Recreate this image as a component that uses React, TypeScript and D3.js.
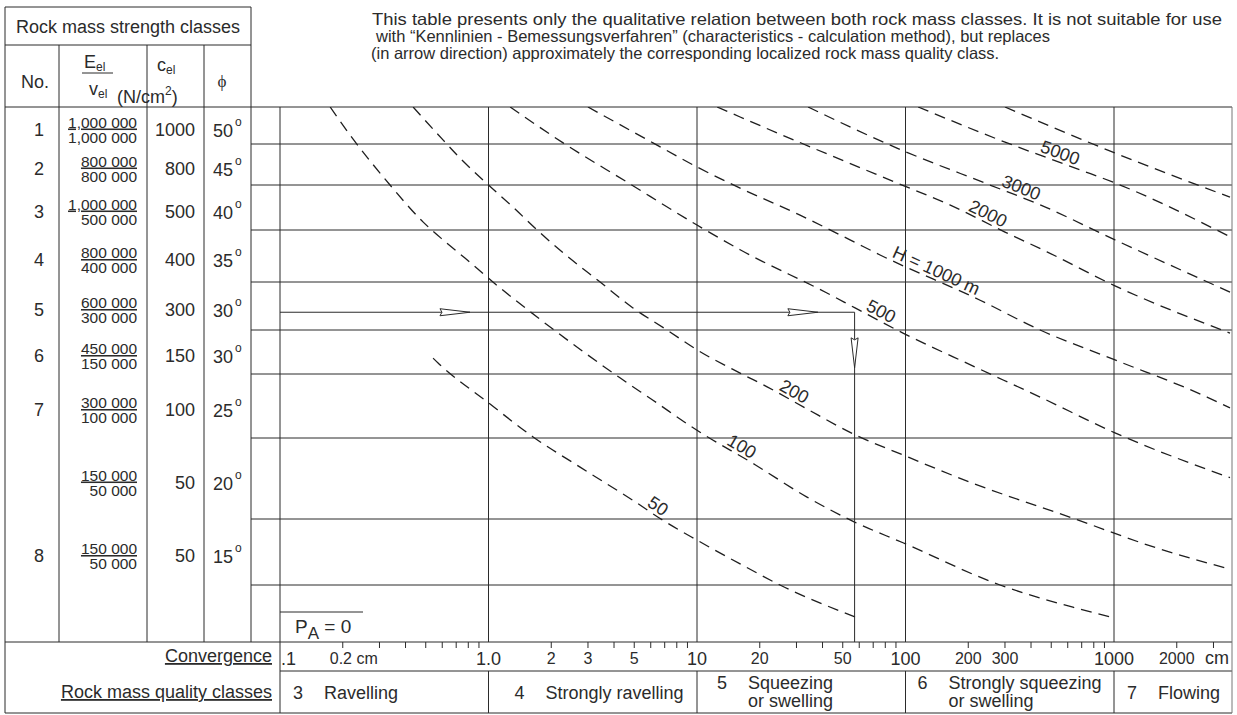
import React from 'react';
import * as d3 from 'd3';

const FONT = '"Liberation Sans", Arial, Helvetica, sans-serif';
const INK = '#2b2b2b';

// rock mass strength classes (table on the left)
const classNo = ['1', '2', '3', '4', '5', '6', '7', '', '8'];
const modulusTop = ['1,000 000', '800 000', '1,000 000', '800 000', '600 000', '450 000', '300 000', '150 000', '150 000'];
const modulusBottom = ['1,000 000', '800 000', '500 000', '400 000', '300 000', '150 000', '100 000', '50 000', '50 000'];
const cohesion = [1000, 800, 500, 400, 300, 150, 100, 50, 50];
const friction = [50, 45, 40, 35, 30, 30, 25, 20, 15];

// convergence axis
const majorValues = [0.1, 1, 10, 100, 1000];
const majorLabels = ['.1', '1.0', '10', '100', '1000'];
const minorValues = [0.2, 2, 3, 5, 20, 50, 200, 300, 2000];
const minorLabels = ['0.2 cm', '2', '3', '5', '20', '50', '200', '300', '2000'];

// rock mass quality classes (bottom row)
const qualityStart = [0.1, 1, 10, 100, 1000];
const qualityNo = ['3', '4', '5', '6', '7'];
const qualityText = [['Ravelling'], ['Strongly ravelling'], ['Squeezing', 'or swelling'], ['Strongly squeezing', 'or swelling'], ['Flowing']];

// overburden curves H: [convergence (cm), position on the strength class rows]
const h50 = [[0.542, 5.64], [0.573, 5.75], [1.0, 6.45], [1.63, 6.98], [2.75, 7.36], [4.93, 7.77], [6.87, 8.02], [10, 8.32], [16.1, 8.68], [25, 9.0], [57.3, 9.56]];
const h100 = [[0.174, 0], [0.217, 0.76], [0.337, 2], [0.485, 2.82], [0.605, 3.19], [0.771, 3.54], [1.05, 4], [1.71, 4.73], [2.9, 5.52], [4.27, 6.06], [6.15, 6.41], [10, 6.88], [19, 7.33], [33.7, 7.73], [57.3, 8.05], [97.3, 8.36], [284, 9], [635, 9.39], [957, 9.56]];
const h200 = [[0.435, 0], [0.605, 0.89], [0.729, 1.34], [1.0, 2], [1.31, 2.49], [1.71, 3], [2.28, 3.44], [3.43, 4], [4.93, 4.54], [7.18, 5], [10, 5.45], [16.1, 5.98], [21.7, 6.2], [33, 6.53], [57.3, 6.95], [97.3, 7.21], [211, 7.56], [635, 7.99], [1607, 8.44], [3600, 8.76]];
const h500 = [[1.27, 0], [2.28, 0.97], [4.62, 1.93], [10, 2.89], [16.1, 3.38], [42, 4.23], [57.3, 4.54], [97.3, 5.07], [211, 5.82], [442, 6.36], [1011, 6.92], [3600, 7.49]];
const h1000 = [[3.0, 0], [6.15, 0.97], [10, 1.56], [16.1, 2.07], [31.2, 2.67], [54.2, 3.19], [75.5, 3.48], [228, 4.38], [442, 5], [1011, 5.68], [2793, 6.36], [3600, 6.53]];
const h2000 = [[12.5, 0], [16.1, 0.27], [91, 1.95], [163, 2.44], [300, 3.04], [477, 3.42], [1011, 4.08], [3600, 5.07]];
const h3000 = [[34.1, 0], [91, 1.1], [254, 2], [442, 2.44], [1011, 3.19], [3600, 4.21]];
const h5000 = [[115, 0], [307, 0.97], [687, 1.63], [1011, 1.95], [3600, 3.13]];
const hTop = [[300, 0], [1011, 1.22], [3600, 2.27]];

const curves = [h50, h100, h200, h500, h1000, h2000, h3000, h5000, hTop];
const curveLabels = ['50', '100', '200', '500', 'H = 1000 m', '2000', '3000', '5000'];
const labelAt = [6.15, 15.6, 27.9, 73, 135, 238, 346, 533];

// worked example arrow
const arrowRow = 4.63;
const arrowEnd = 57;
const arrowHeads = [0.815, 38];
const arrowDownTip = 5.86;

const noteLines = [
  'This table presents only the qualitative relation between both rock mass classes. It is not suitable for use',
  'with \u201cKennlinien - Bemessungsverfahren\u201d (characteristics - calculation method), but replaces',
  '(in arrow direction) approximately the corresponding localized rock mass quality class.',
];

export default function App() {
  const rowEdges = [107, 144, 185, 230, 282, 330, 374, 438, 519, 585, 642];
  const x = d3.scaleLog().domain([0.1, 1000]).range([280, 1114]);
  const y = d3.scaleLinear().domain(d3.range(rowEdges.length)).range(rowEdges);

  const left = 5, tabRight = 251, right = 1232, top = 7, headMid = 45;
  const plotTop = y(0), plotBottom = y(10), convBottom = 671, bottom = 713;
  const x0 = x(0.1);
  const cols = [59, 147, 204];

  const line = d3.line<number[]>()
    .x(d => x(d[0]))
    .y(d => y(d[1]))
    .curve(d3.curveMonotoneX);

  const minorTicks: number[] = [];
  majorValues.forEach(d => {
    for (let m = 2; m <= 9; m++) if (d * m <= 3000) minorTicks.push(d * m);
  });

  // position + slope of a curve at a given convergence
  const place = (data: number[][], cm: number) => {
    const pts = data.map(d => [x(d[0]), y(d[1])]);
    const px = x(cm);
    let i = 0;
    while (i < pts.length - 2 && pts[i + 1][0] < px) i++;
    const [ax, ay] = pts[i];
    const [bx, by] = pts[i + 1];
    const t = (px - ax) / (bx - ax);
    return { px, py: ay + t * (by - ay), angle: Math.atan2(by - ay, bx - ax) * 180 / Math.PI };
  };

  const lineStyle = { stroke: INK, strokeWidth: 1, fill: 'none' };
  const hl = (y1: number, xa: number, xb: number, k: string) => <line key={k} x1={xa} x2={xb} y1={y1} y2={y1} {...lineStyle} />;
  const vl = (x1: number, ya: number, yb: number, k: string) => <line key={k} x1={x1} x2={x1} y1={ya} y2={yb} {...lineStyle} />;

  const ay = y(arrowRow);

  return (
    <svg width={1237} height={715} style={{ position: 'absolute', left: 0, top: 0, background: '#fff' }} fontFamily={FONT} fill={INK}>
      {/* note */}
      <text x={372} y={25} fontSize={16.5} textLength={850} lengthAdjust="spacingAndGlyphs">{noteLines[0]}</text>
      <text x={376} y={42} fontSize={16.5}>{noteLines[1]}</text>
      <text x={371} y={59} fontSize={16.5}>{noteLines[2]}</text>

      {/* table frame */}
      {hl(top, left, tabRight, 't0')}
      {hl(headMid, left, tabRight, 't1')}
      {vl(left, top, bottom, 'tl')}
      {vl(tabRight, top, plotBottom, 'tr')}
      {cols.map((c, i) => vl(c, headMid, plotBottom, 'c' + i))}

      {/* row lines */}
      {rowEdges.map((e, i) => {
        if (i === 0 || i === rowEdges.length - 1) return hl(e, left, right, 'r' + i);
        return hl(e, tabRight, right, 'r' + i);
      })}
      {hl(convBottom, x0, right, 'cb')}
      {hl(bottom, left, right, 'bb')}
      {vl(x0, plotTop, bottom, 'x0')}
      {majorValues.slice(1).map(v => vl(x(v), plotTop, plotBottom, 'mv' + v))}
      {qualityStart.slice(1).map(v => vl(x(v), convBottom, bottom, 'qv' + v))}
      <line x1={right} x2={right} y1={plotTop} y2={bottom} stroke="#777" strokeWidth={1} />

      {/* header */}
      <text x={128} y={33} fontSize={18} textAnchor="middle">Rock mass strength classes</text>
      <text x={35} y={88} fontSize={18} textAnchor="middle">No.</text>
      <text x={84} y={68} fontSize={18}>E<tspan fontSize={12} dy={3}>el</tspan></text>
      <line x1={82} x2={113} y1={73} y2={73} {...lineStyle} />
      <text x={89} y={95} fontSize={18}>v<tspan fontSize={12} dy={3}>el</tspan></text>
      <text x={117} y={103} fontSize={18}>(N/cm<tspan fontSize={12} dy={-8}>2</tspan><tspan dy={8}>)</tspan></text>
      <text x={157} y={71} fontSize={18}>c<tspan fontSize={12} dy={3}>el</tspan></text>
      <text x={222} y={87} fontSize={17} textAnchor="middle" fontFamily='"Liberation Serif", "DejaVu Serif", serif'>{'\u03d5'}</text>

      {/* table rows */}
      {classNo.map((n, i) => {
        const cy = y(i + 0.5) + 4;
        return (
          <g key={'row' + i}>
            <text x={39} y={cy + 6} fontSize={18} textAnchor="middle">{n}</text>
            <text x={137} y={cy - 2} fontSize={15.5} textAnchor="end" textDecoration="underline">{modulusTop[i]}</text>
            <text x={137} y={cy + 13} fontSize={15.5} textAnchor="end">{modulusBottom[i]}</text>
            <text x={195} y={cy + 6} fontSize={18} textAnchor="end">{cohesion[i]}</text>
            <text x={233} y={cy + 7} fontSize={18} textAnchor="end">{friction[i]}</text>
            <text x={235} y={cy - 4} fontSize={12}>o</text>
          </g>
        );
      })}

      {/* curves */}
      <defs>
        <clipPath id="plotClip">
          <rect x={x0} y={plotTop} width={right - x0} height={plotBottom - plotTop} />
        </clipPath>
      </defs>
      <g clipPath="url(#plotClip)">
        {curves.map((c, i) => (
          <path key={'h' + i} d={line(c) || ''} fill="none" stroke="#1e1e1e" strokeWidth={1.3} strokeDasharray="11 7" />
        ))}
      </g>
      {curveLabels.map((t, i) => {
        const p = place(curves[i], labelAt[i]);
        return (
          <text key={t} transform={`translate(${p.px},${p.py}) rotate(${p.angle})`} y={-3} fontSize={18} textAnchor="middle">{t}</text>
        );
      })}

      {/* worked example */}
      <line x1={x0} x2={x(arrowEnd)} y1={ay} y2={ay} {...lineStyle} />
      <line x1={x(arrowEnd)} x2={x(arrowEnd)} y1={ay} y2={plotBottom} {...lineStyle} />
      {arrowHeads.map(v => {
        const tx = x(v);
        return <polygon key={'ah' + v} points={`${tx},${ay} ${tx - 30},${ay - 3.5} ${tx - 28},${ay} ${tx - 30},${ay + 3.5}`} fill="#fff" stroke={INK} strokeWidth={1} />;
      })}
      {(() => {
        const tx = x(arrowEnd), ty = y(arrowDownTip);
        return <polygon points={`${tx},${ty} ${tx - 3.5},${ty - 30} ${tx},${ty - 28} ${tx + 3.5},${ty - 30}`} fill="#fff" stroke={INK} strokeWidth={1} />;
      })()}

      {/* P_A = 0 */}
      <line x1={x0} x2={363} y1={612} y2={612} {...lineStyle} />
      <text x={295} y={633} fontSize={19}>P<tspan fontSize={17} dy={6}>A</tspan><tspan dy={-6}> = 0</tspan></text>

      {/* convergence ticks + labels */}
      {minorTicks.map(v => (
        <line key={'tk' + v} x1={x(v)} x2={x(v)} y1={plotBottom} y2={plotBottom + 6} {...lineStyle} />
      ))}
      {majorValues.map((v, i) => (
        <text key={'ml' + v} x={i === 0 ? x(v) + 1 : x(v)} y={665} fontSize={18} textAnchor={i === 0 ? 'start' : 'middle'}>{majorLabels[i]}</text>
      ))}
      {minorValues.map((v, i) => (
        <text key={'nl' + v} x={i === 0 ? x(v) - 13 : x(v)} y={664} fontSize={16} textAnchor={i === 0 ? 'start' : 'middle'}>{minorLabels[i]}</text>
      ))}
      <text x={right - 3} y={664} fontSize={18} textAnchor="end">cm</text>
      <text x={272} y={662} fontSize={18} textAnchor="end" textDecoration="underline">Convergence</text>
      <text x={272} y={698} fontSize={18} textAnchor="end" textDecoration="underline">Rock mass quality classes</text>

      {/* quality classes */}
      {qualityNo.map((n, i) => {
        const offs = [18, 31, 25, 17, 18];
        const bx = x(qualityStart[i]) + offs[i];
        const lines = qualityText[i];
        const base = lines.length > 1 ? 689 : 699;
        return (
          <g key={'q' + n}>
            <text x={bx} y={base} fontSize={18} textAnchor="middle">{n}</text>
            {lines.map((t, j) => (
              <text key={t} x={bx + 26} y={base + j * 18} fontSize={18}>{t}</text>
            ))}
          </g>
        );
      })}
    </svg>
  );
}
